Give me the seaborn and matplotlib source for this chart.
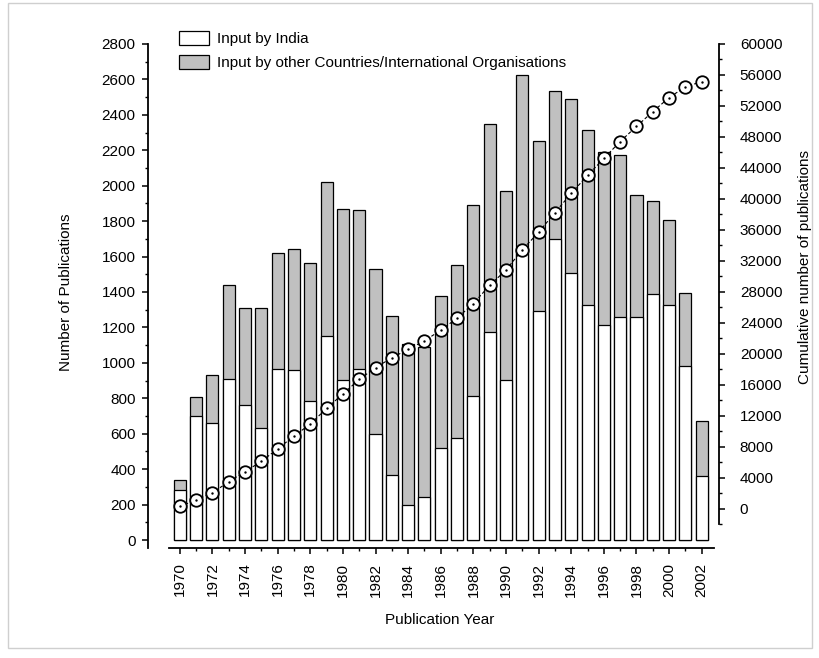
"""
Publications per year (India vs other inputs) with cumulative count.
"""

import matplotlib
matplotlib.use("Agg")
import matplotlib.pyplot as plt
from matplotlib.patches import Patch, Rectangle
from matplotlib.ticker import FixedLocator, MultipleLocator
import pandas as pd
import seaborn as sns

years = list(range(1970, 2003))
india = [280, 702, 663, 907, 764, 631, 963, 958, 783, 1151,
         905, 967, 597, 365, 200, 240, 517, 577, 812, 1172,
         905, 1640, 1290, 1698, 1508, 1328, 1213, 1260, 1260, 1388,
         1328, 982, 364]
others = [60, 105, 268, 530, 545, 680, 658, 683, 778, 872,
          962, 894, 930, 897, 906, 847, 859, 978, 1079, 1175,
          1065, 982, 960, 835, 984, 989, 977, 915, 686, 524,
          480, 411, 305]
cumulative = [340, 1150, 2080, 3520, 4820, 6140, 7760, 9400, 10960, 12980,
              14850, 16710, 18240, 19500, 20600, 21690, 23070, 24620, 26510, 28860,
              30830, 33450, 35700, 38240, 40730, 43040, 45230, 47410, 49360, 51270,
              53080, 54470, 55140]

legend_labels = ["Input by India",
                 "Input by other Countries/International Organisations"]

sns.set_style("ticks", rc={"axes.edgecolor": "black", "xtick.color": "black",
                           "ytick.color": "black", "text.color": "black",
                           "axes.labelcolor": "black"})
plt.rcParams["font.family"] = ["Liberation Sans", "DejaVu Sans"]
plt.rcParams["font.size"] = 11

df = pd.DataFrame({"year": years, "india": india, "others": others,
                   "cumulative": cumulative})
df["total"] = df["india"] + df["others"]

fig = plt.figure(figsize=(8.2, 6.58), dpi=100)
fig.patches.append(Rectangle((0.0098, 0.0152), 0.9805, 0.980, transform=fig.transFigure,
                             fill=False, edgecolor="#cfcfcf", linewidth=1.0))

ax = fig.add_axes([0.2061, 0.1672, 0.6646, 0.766])

# stacked bars: gray total behind, white India part in front
sns.barplot(data=df, x="year", y="total", native_scale=True, color="#c0c0c0",
            saturation=1, edgecolor="black", linewidth=0.9, width=0.74,
            errorbar=None, ax=ax)
sns.barplot(data=df, x="year", y="india", native_scale=True, color="white",
            saturation=1, edgecolor="black", linewidth=0.9, width=0.74,
            errorbar=None, ax=ax)

ax.set_xlim(1969.34, 2002.75)
ax.set_ylim(-45, 2800)
ax.xaxis.set_minor_locator(MultipleLocator(1))
ax.yaxis.set_major_locator(MultipleLocator(200))
ax.yaxis.set_minor_locator(MultipleLocator(100))
ax.set_xticks(years[::2])
ax.set_xticklabels([str(y) for y in years[::2]], rotation=90)
ax.tick_params(axis="both", which="major", length=4, width=1.1, labelsize=11)
ax.tick_params(axis="both", which="minor", length=2.5, width=1.0)
ax.tick_params(axis="y", which="major", pad=5)
ax.tick_params(axis="x", which="major", pad=6.5)
for side in ["top", "right"]:
    ax.spines[side].set_visible(False)
ax.spines["left"].set_position(("outward", 15))
for side in ["left", "bottom"]:
    ax.spines[side].set_linewidth(1.3)

ax.set_xlabel("Publication Year", fontsize=11)
ax.set_ylabel("Number of Publications", fontsize=11)
ax.xaxis.set_label_coords(0.497, -0.129)
ax.yaxis.set_label_coords(-0.176, 0.508)

# cumulative line on the right axis
ax2 = ax.twinx()
sns.lineplot(data=df, x="year", y="cumulative", ax=ax2, color="black",
             linewidth=0.8, linestyle=(0, (3, 2)), marker="o", markersize=9,
             markerfacecolor="white", markeredgecolor="black",
             markeredgewidth=1.3)
sns.scatterplot(data=df, x="year", y="cumulative", ax=ax2, color="black",
                s=3, linewidth=0, legend=False, zorder=5)
ax2.set_ylim(-5030, 60000)
ax2.yaxis.set_major_locator(FixedLocator(range(0, 60001, 4000)))
ax2.yaxis.set_minor_locator(FixedLocator(range(-2000, 60001, 2000)))
ax2.spines["right"].set_bounds(-2000, 60000)
ax2.spines["right"].set_position(("outward", 3.6))
ax2.spines["right"].set_linewidth(1.3)
for side in ["top", "left", "bottom"]:
    ax2.spines[side].set_visible(False)
ax2.tick_params(axis="y", which="major", length=4, width=1.1, labelsize=11, pad=11)
ax2.tick_params(axis="y", which="minor", length=2.5, width=1.0)
ax2.set_ylabel("Cumulative number of publications", fontsize=11)
ax2.yaxis.set_label_coords(1.154, 0.5575)
ax2.set_xlim(1969.34, 2002.75)

handles = [Patch(facecolor="white", edgecolor="black", linewidth=0.9),
           Patch(facecolor="#c0c0c0", edgecolor="black", linewidth=0.9)]
fig.legend(handles, legend_labels, loc="upper left",
           bbox_to_anchor=(179 / 820, 1 - 31 / 658), frameon=False,
           fontsize=11, handlelength=1.96, handleheight=1.05,
           handletextpad=0.52, labelspacing=0.55, borderaxespad=0,
           borderpad=0)

plt.savefig("out.png", dpi=100)
plt.close(fig)
